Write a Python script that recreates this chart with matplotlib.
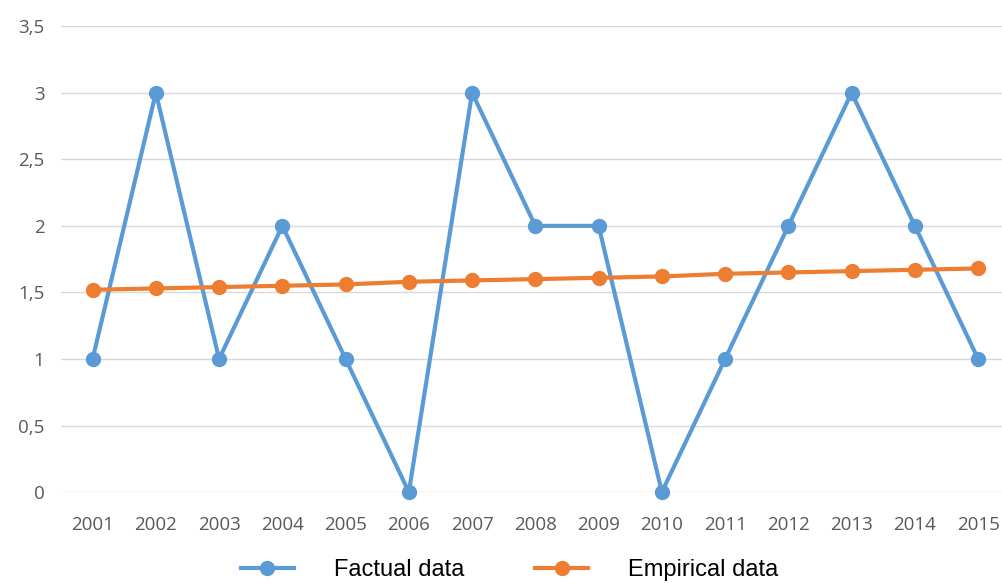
import matplotlib.pyplot as plt

years = ['2001', '2002', '2003', '2004', '2005', '2006', '2007', '2008',
         '2009', '2010', '2011', '2012', '2013', '2014', '2015']
factual = [1, 3, 1, 2, 1, 0, 3, 2, 2, 0, 1, 2, 3, 2, 1]
empirical = [1.52, 1.53, 1.54, 1.55, 1.56, 1.58, 1.59, 1.60,
             1.61, 1.62, 1.64, 1.65, 1.66, 1.67, 1.68]
y_ticks = [0, 0.5, 1, 1.5, 2, 2.5, 3, 3.5]
y_labels = ['0', '0,5', '1', '1,5', '2', '2,5', '3', '3,5']

fig = plt.figure(figsize=(10.03, 5.83), dpi=100)
ax = fig.add_axes([0.0608, 0.156, 0.939, 0.799])

x = list(range(len(years)))
ax.plot(x, factual, '-o', color='#5B9BD5', lw=3, markersize=10,
        label='Factual data', zorder=3, clip_on=False)
ax.plot(x, empirical, '-o', color='#ED7D31', lw=3, markersize=10,
        label='Empirical data', zorder=4, clip_on=False)

ax.set_xlim(-0.5, 14.39)
ax.set_ylim(0, 3.5)
ax.set_xticks(x)
ax.set_xticklabels(years)
ax.set_yticks(y_ticks)
ax.set_yticklabels(y_labels)
ax.grid(axis='y', color='#D9D9D9', lw=1)
ax.set_axisbelow(True)
for s in ax.spines.values():
    s.set_visible(False)
ax.tick_params(length=0, labelsize=13.5, colors='#595959', pad=12)
for lab in ax.get_xticklabels() + ax.get_yticklabels():
    lab.set_family('Open Sans')
ax.tick_params(axis='x', pad=17)

fig.legend(loc='center', bbox_to_anchor=(0.508, 0.022), ncol=2, frameon=False,
           prop={'family': 'Liberation Sans', 'size': 17},
           handlelength=2.25, columnspacing=3.0, handletextpad=1.7)

fig.savefig('out.png', dpi=100)
